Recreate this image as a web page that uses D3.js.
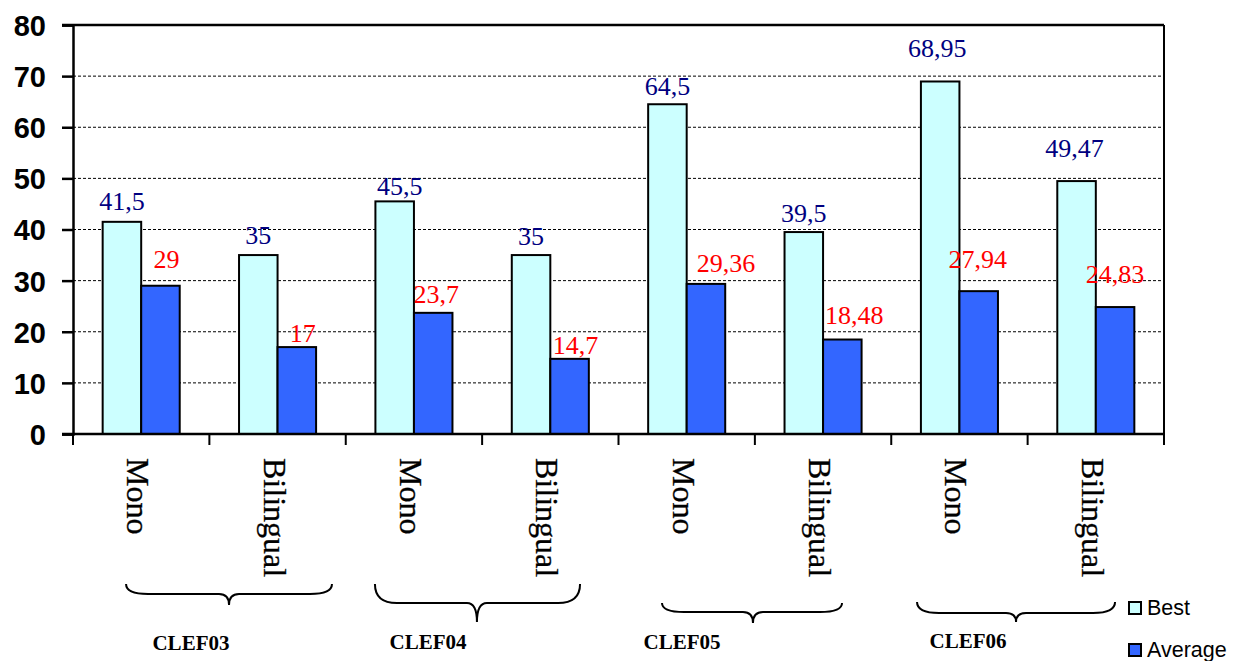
<!DOCTYPE html>
<html><head><meta charset="utf-8">
<script src="https://cdn.jsdelivr.net/npm/d3@7"></script>
<style>body{margin:0;background:#fff}svg{display:block}</style>
</head><body>
<svg id="c" width="1236" height="661"></svg>
<script>
// ---- data ----
const categories = ["Mono","Bilingual","Mono","Bilingual","Mono","Bilingual","Mono","Bilingual"];
const groups = ["CLEF03","CLEF04","CLEF05","CLEF06"];
const seriesNames = ["Best","Average"];
const bestValues = [41.5, 35, 45.5, 35, 64.5, 39.5, 68.95, 49.47];
const averageValues = [29, 17, 23.7, 14.7, 29.36, 18.48, 27.94, 24.83];
const bestLabels = ["41,5","35","45,5","35","64,5","39,5","68,95","49,47"];
const averageLabels = ["29","17","23,7","14,7","29,36","18,48","27,94","24,83"];
const yTicks = [0,10,20,30,40,50,60,70,80];

// label nudges [dx, gap above bar]
const bestNudge = [[0,12],[0,11],[5,6],[0,10],[0,9],[0,10],[-3,24],[-2,24]];
const avgNudge  = [[6,18],[6,5],[3,10],[6,5],[20,12],[12,16],[-1,23],[0,24]];

const svg = d3.select("#c");
const L = 73, R = 1164, T = 25, B = 434;
const x = d3.scaleBand().domain(d3.range(categories.length)).range([L,R]).padding(0);
const xs = d3.scaleBand().domain(seriesNames).range([0, x.bandwidth()]).paddingInner(0).paddingOuter(0.77);
const xc = d3.scaleLinear().domain([0, categories.length]).range([L,R]);
const y = d3.scaleLinear().domain([0,80]).range([B,T]);
const colors = {Best:"#ccffff", Average:"#3366ff"};

// gridlines
svg.append("g").selectAll("line").data(yTicks.filter(d=>d>0 && d<80)).join("line")
  .attr("x1",L).attr("x2",R).attr("y1",d=>y(d)).attr("y2",d=>y(d))
  .attr("stroke","#000").attr("stroke-width",1).attr("stroke-dasharray","3,2");

// top and right frame
svg.append("line").attr("x1",L-11).attr("x2",R).attr("y1",y(80)).attr("y2",y(80)).attr("stroke","#000").attr("stroke-width",2.5);
svg.append("line").attr("x1",R).attr("x2",R).attr("y1",y(80)).attr("y2",B+11).attr("stroke","#000").attr("stroke-width",2);

// y axis
const yAxis = d3.axisLeft(y).tickValues(yTicks).tickSize(11).tickPadding(16);
const ga = svg.append("g").attr("transform",`translate(${L},0)`).call(yAxis);
ga.select(".domain").attr("stroke","#000").attr("stroke-width",2.5);
ga.selectAll(".tick line").attr("stroke","#000").attr("stroke-width",2.5);
ga.selectAll(".tick text").attr("font-family","Liberation Sans, Arial, sans-serif")
  .attr("font-size",29).attr("font-weight","bold").attr("fill","#000").attr("dy","0.36em");

// bars
const data = categories.map((c,i)=>({i, Best:bestValues[i], Average:averageValues[i]}));
const gBars = svg.append("g");
seriesNames.forEach(s=>{
  gBars.selectAll("rect."+s).data(data).join("rect").attr("class",s)
    .attr("x",d=>x(d.i)+xs(s)).attr("width",xs.bandwidth())
    .attr("y",d=>y(d[s])).attr("height",d=>B-y(d[s]))
    .attr("fill",colors[s]).attr("stroke","#000").attr("stroke-width",2);
});

// x axis line + ticks
svg.append("line").attr("x1",L-11).attr("x2",R).attr("y1",B).attr("y2",B).attr("stroke","#000").attr("stroke-width",2.5);
svg.append("g").selectAll("line").data(d3.range(categories.length+1)).join("line")
  .attr("x1",d=>xc(d)).attr("x2",d=>xc(d)).attr("y1",B).attr("y2",B+11)
  .attr("stroke","#000").attr("stroke-width",2);

// value labels
svg.append("g").selectAll("text").data(data).join("text")
  .attr("x",d=>x(d.i)+xs("Best")+xs.bandwidth()/2+bestNudge[d.i][0])
  .attr("y",d=>y(d.Best)-bestNudge[d.i][1])
  .attr("text-anchor","middle").attr("font-family","Liberation Serif, Times New Roman, serif")
  .attr("font-size",26).attr("fill","#000080").text(d=>bestLabels[d.i]);
svg.append("g").selectAll("text").data(data).join("text")
  .attr("x",d=>x(d.i)+xs("Average")+xs.bandwidth()/2+avgNudge[d.i][0])
  .attr("y",d=>y(d.Average)-avgNudge[d.i][1])
  .attr("text-anchor","middle").attr("font-family","Liberation Serif, Times New Roman, serif")
  .attr("font-size",26).attr("fill","#ff0000").text(d=>averageLabels[d.i]);

// category labels (rotated)
svg.append("g").selectAll("text").data(categories).join("text")
  .attr("transform",(d,i)=>`translate(${x(i)+x.bandwidth()/2},458) rotate(90)`)
  .attr("dy",14).attr("text-anchor","start")
  .attr("font-family","Liberation Serif, Times New Roman, serif").attr("font-size",32).attr("fill","#000")
  .attr("stroke","#000").attr("stroke-width",0.3)
  .text(d=>d);

// braces (annotation layout, in category units)
const braces = [
  {x0:0.389, x1:1.899, tip:1.144, top:584, flat:594, tipY:605, lx:0.865, ly:650},
  {x0:2.214, x1:3.718, tip:2.962, top:584, flat:603, tipY:622, lx:2.603, ly:649},
  {x0:4.319, x1:5.639, tip:4.986, top:603, flat:612, tipY:623, lx:4.466, ly:649},
  {x0:6.189, x1:7.641, tip:6.915, top:602, flat:613, tipY:622, lx:6.563, ly:648}
];
function bracePath(b){
  const a=xc(b.x0), c=xc(b.x1), t=xc(b.tip);
  const r=Math.min(22,(t-a)/3), r2=10;
  return `M${a},${b.top} Q${a},${b.flat} ${a+r},${b.flat} L${t-r2},${b.flat} Q${t},${b.flat} ${t},${b.tipY} `+
         `Q${t},${b.flat} ${t+r2},${b.flat} L${c-r},${b.flat} Q${c},${b.flat} ${c},${b.top}`;
}
svg.append("g").selectAll("path").data(braces).join("path")
  .attr("d",bracePath).attr("fill","none").attr("stroke","#000").attr("stroke-width",2);
svg.append("g").selectAll("text").data(groups).join("text")
  .attr("x",(d,i)=>xc(braces[i].lx)).attr("y",(d,i)=>braces[i].ly)
  .attr("text-anchor","middle").attr("font-family","Liberation Serif, Times New Roman, serif")
  .attr("font-weight","bold").attr("font-size",21).attr("fill","#000").text(d=>d);

// legend
const lg = svg.append("g");
seriesNames.forEach((s,i)=>{
  const yy = 602 + i*42;
  lg.append("rect").attr("x",1129).attr("y",yy).attr("width",12).attr("height",12)
    .attr("fill",colors[s]).attr("stroke","#000").attr("stroke-width",2);
  lg.append("text").attr("x",1147).attr("y",yy+12.5)
    .attr("font-family","Liberation Sans, Arial, sans-serif").attr("font-size",21.5).attr("fill","#000").text(s);
});
</script>
</body></html>
